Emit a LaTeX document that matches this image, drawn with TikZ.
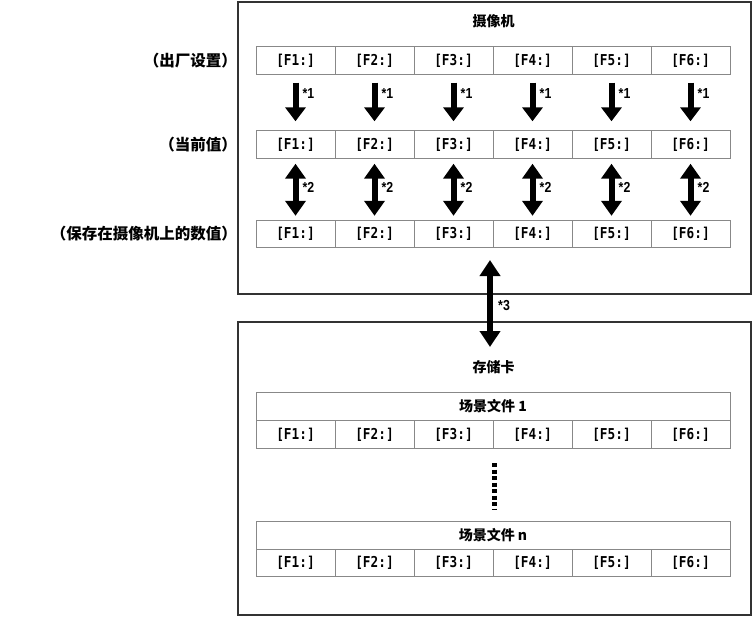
\documentclass[tikz,border=0pt]{standalone}
\usepackage{fontspec}
\setmainfont{Liberation Sans}
\newfontfamily\cjk{Noto Sans CJK SC}
\newfontfamily\monof[FakeStretch=0.85]{DejaVu Sans Mono}
\newfontfamily\starf[FakeStretch=0.85]{Liberation Sans}
\usetikzlibrary{arrows.meta}
\definecolor{cellgray}{HTML}{888888}
\definecolor{boxdark}{HTML}{333333}
\tikzset{
  outerbox/.style={draw=boxdark, line width=1.5pt, inner sep=0pt, anchor=north west},
  cell/.style={draw=cellgray, line width=0.9pt, minimum width=79pt, minimum height=27.5pt, inner sep=0pt, font=\monof\bfseries\fontsize{15}{17}\selectfont},
  headcell/.style={draw=cellgray, line width=0.9pt, minimum width=474pt, minimum height=28pt, inner sep=0pt, font=\cjk\bfseries\fontsize{14}{16}\selectfont},
  cjklabel/.style={font=\cjk\bfseries\fontsize{14}{16}\selectfont, inner sep=0pt},
  sidelabel/.style={font=\cjk\bfseries\fontsize{15.5}{17}\selectfont, inner sep=0pt, anchor=east},
  starlabel/.style={font=\starf\bfseries\fontsize{14.5}{16}\selectfont, inner sep=0pt, anchor=west},
  arrone/.style={line width=6pt, -{Triangle[width=20pt,length=14pt]}, shorten <=8pt, shorten >=9pt},
  arrtwo/.style={line width=6pt, {Triangle[width=20pt,length=15pt]}-{Triangle[width=20pt,length=15pt]}, shorten <=5pt, shorten >=4pt},
  arrthree/.style={line width=6.5pt, {Triangle[width=20pt,length=16pt]}-{Triangle[width=20pt,length=16pt]}},
  dotsline/.style={line width=5pt, dash pattern=on 4pt off 2.5pt}
}
\begin{document}
\begin{tikzpicture}[x=1pt,y=-1pt]
\useasboundingbox (0,0) rectangle (752,616);
% outer boxes
\node[outerbox, minimum width=513pt, minimum height=292pt] (cam) at (237,1) {};
\node[outerbox, minimum width=513pt, minimum height=293pt] (card) at (237,321) {};
% titles
\node[cjklabel] (camtitle) at (493.5,21) {摄像机};
\node[cjklabel] (cardtitle) at (493.5,367) {存储卡};
% left labels
\node[sidelabel] (lab1) at (237,61) {（出厂设置）};
\node[sidelabel] (lab2) at (237,145) {（当前值）};
\node[sidelabel] (lab3) at (237,234) {（保存在摄像机上的数值）};
% rows
\foreach \i in {1,...,6} {
  \node[cell] (a\i) at ({256+79*(\i-0.5)}, 60.5) {[F\i:]};
  \node[cell] (b\i) at ({256+79*(\i-0.5)}, 144.5) {[F\i:]};
  \node[cell] (c\i) at ({256+79*(\i-0.5)}, 234) {[F\i:]};
  \node[cell] (d\i) at ({256+79*(\i-0.5)}, 434.5) {[F\i:]};
  \node[cell] (e\i) at ({256+79*(\i-0.5)}, 563) {[F\i:]};
  \draw[arrone] (a\i.south) -- (b\i.north);
  \draw[arrtwo] (b\i.south) -- (c\i.north);
  \node[starlabel] (s1\i) at ({256+79*(\i-0.5)+7}, 94) {*1};
  \node[starlabel] (s2\i) at ({256+79*(\i-0.5)+7}, 187) {*2};
}
% scene file headers
\node[headcell] (h1) at (493,406.5) {场景文件 1};
\node[headcell] (h2) at (493,535) {场景文件 n};
% dots
\coordinate (dtop) at (494,463);
\coordinate (dbot) at (494,509);
\draw[dotsline] (dtop) -- (dbot);
% arrow *3
\coordinate (t3) at (490,260);
\coordinate (b3) at (490,347);
\draw[arrthree] (t3) -- (b3);
\node[starlabel] (s3) at (498,306) {*3};
\end{tikzpicture}
\end{document}
